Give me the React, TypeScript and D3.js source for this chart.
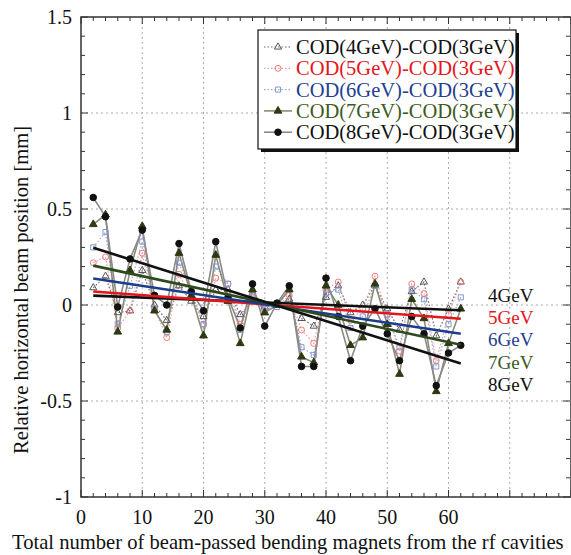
import React from 'react';
import * as d3 from 'd3';

const positions = [2, 4, 6, 8, 10, 12, 14, 16, 18, 20, 22, 24, 26, 28, 30, 32, 34, 36, 38, 40, 42, 44, 46, 48, 50, 52, 54, 56, 58, 60, 62];

const cod4 = [0.09, 0.15, -0.04, -0.03, 0.18, 0.0, -0.08, 0.10, 0.02, -0.06, 0.08, 0.08, -0.05, 0.02, -0.01, 0.0, 0.03, -0.07, -0.11, 0.04, 0.10, -0.04, 0.0, 0.10, -0.02, -0.13, 0.07, 0.12, -0.16, -0.02, 0.12];
const cod5 = [0.22, 0.25, -0.12, -0.03, 0.27, -0.02, -0.17, 0.16, 0.04, -0.10, 0.14, 0.11, -0.10, 0.04, -0.03, -0.01, 0.05, -0.13, -0.20, 0.08, 0.12, -0.08, -0.02, 0.15, -0.05, -0.24, 0.11, 0.06, -0.29, -0.05, 0.12];
const cod6 = [0.30, 0.38, -0.10, 0.10, 0.33, -0.02, -0.14, 0.22, 0.07, -0.10, 0.20, 0.11, -0.13, 0.06, -0.02, -0.01, 0.08, -0.22, -0.26, 0.06, 0.08, -0.12, -0.06, 0.10, -0.05, -0.22, 0.08, 0.03, -0.32, -0.10, 0.04];
const cod7 = [0.42, 0.47, -0.14, 0.18, 0.41, -0.03, -0.13, 0.27, 0.05, -0.16, 0.26, 0.02, -0.20, 0.08, -0.04, 0.0, 0.08, -0.27, -0.30, 0.10, 0.0, -0.21, -0.17, 0.11, -0.10, -0.36, 0.03, -0.07, -0.45, -0.20, -0.02];
const cod8 = [0.56, 0.46, -0.01, 0.24, 0.39, 0.05, 0.0, 0.32, 0.07, -0.03, 0.33, 0.04, -0.12, 0.11, -0.11, 0.01, 0.10, -0.32, -0.32, 0.14, -0.06, -0.29, -0.11, -0.02, -0.15, -0.29, -0.06, -0.15, -0.42, -0.25, -0.21];

const seriesNames = ['COD(4GeV)-COD(3GeV)', 'COD(5GeV)-COD(3GeV)', 'COD(6GeV)-COD(3GeV)', 'COD(7GeV)-COD(3GeV)', 'COD(8GeV)-COD(3GeV)'];
const energyLabels = ['4GeV', '5GeV', '6GeV', '7GeV', '8GeV'];
const fitX = [2, 62];
const fitStart = [0.049, 0.07, 0.138, 0.205, 0.298];
const fitEnd = [-0.027, -0.072, -0.15, -0.207, -0.305];

const xTicks = [0, 10, 20, 30, 40, 50, 60];
const xGrid = [10, 20, 30, 40, 50, 60, 70];
const yTicks = [-1, -0.5, 0, 0.5, 1, 1.5];
const yGrid = [-0.5, 0, 0.5, 1];

const FONT = '"Liberation Serif", "Times New Roman", serif';

const allSeries = [cod4, cod5, cod6, cod7, cod8];
const lineColors = ['#6a6a6a', '#f29a9a', '#9aaad6', '#8c8c74', '#8a8a8a'];
const lineDash = ['1.5,2', '1.5,2', '1.5,2', null, null];
const markerStroke = ['#555', '#ef7b7b', '#8497cf', '#2c3a12', '#111'];
const markerFill = ['none', 'none', 'none', '#2c3a12', '#111'];
const markerType = [d3.symbolTriangle, d3.symbolCircle, d3.symbolSquare, d3.symbolTriangle, d3.symbolCircle];
const markerSize = [22, 28, 26, 26, 34];
const fitColors = ['#111', '#e3161d', '#1c3c8e', '#2d4a1e', '#111'];
const textColors = ['#111', '#e3161d', '#1f3f8f', '#3c5a22', '#111'];

export default function App() {
  const W = 571, H = 555;
  const left = 81, right = 571, top = 17, bottom = 497;
  const x = d3.scaleLinear().domain([0, 80]).range([left, right]);
  const y = d3.scaleLinear().domain([-1, 1.5]).range([bottom, top]);
  const line = d3.line<number>().x((_, i) => x(positions[i])).y(d => y(d));

  const xMinor = d3.range(0, 81, 2);
  const yMinor = d3.range(-1, 1.501, 0.1);

  return (
    <svg width={W} height={H} style={{ position: 'absolute', left: 0, top: 0, background: '#fff' }} fontFamily={FONT}>
      <rect x={0} y={0} width={W} height={H} fill="#fff" />
      {xGrid.map(v => (
        <line key={'gx' + v} x1={x(v)} x2={x(v)} y1={top} y2={bottom} stroke="#aaa" strokeWidth={1} strokeDasharray="2,3" />
      ))}
      {yGrid.map(v => (
        <line key={'gy' + v} x1={left} x2={right} y1={y(v)} y2={y(v)} stroke="#aaa" strokeWidth={1} strokeDasharray="2,3" />
      ))}
      {xMinor.map(v => {
        const major = v % 10 === 0;
        const l = major ? 7 : 4;
        return (
          <g key={'tx' + v}>
            <line x1={x(v)} x2={x(v)} y1={bottom} y2={bottom - l} stroke="#333" strokeWidth={1} />
            <line x1={x(v)} x2={x(v)} y1={top} y2={top + l} stroke="#333" strokeWidth={1} />
          </g>
        );
      })}
      {yMinor.map((v, i) => {
        const major = i % 5 === 0;
        const l = major ? 7 : 4;
        return (
          <g key={'ty' + i}>
            <line x1={left} x2={left + l} y1={y(v)} y2={y(v)} stroke="#333" strokeWidth={1} />
            <line x1={right - 1} x2={right - 1 - l} y1={y(v)} y2={y(v)} stroke="#333" strokeWidth={1} />
          </g>
        );
      })}
      {allSeries.map((s, k) => (
        <path key={'l' + k} d={line(s) || ''} fill="none" stroke={lineColors[k]} strokeWidth={k >= 3 ? 1.6 : 1.2} strokeDasharray={lineDash[k] || undefined} />
      ))}
      {allSeries.map((s, k) => (
        <g key={'m' + k}>
          {s.map((v, i) => (
            <path key={i} transform={`translate(${x(positions[i])},${y(v)})`} d={d3.symbol(markerType[k], markerSize[k])() || ''} fill={markerFill[k]} stroke={markerStroke[k]} strokeWidth={1} />
          ))}
        </g>
      ))}
      {fitStart.map((v, k) => (
        <line key={'f' + k} x1={x(fitX[0])} x2={x(fitX[1])} y1={y(v)} y2={y(fitEnd[k])} stroke={fitColors[k]} strokeWidth={2.6} />
      ))}
      <rect x={left} y={top} width={right - left} height={bottom - top} fill="none" stroke="#333" strokeWidth={1.5} />
      {yTicks.map(v => (
        <text key={'yl' + v} x={72} y={y(v) + 7} textAnchor="end" fontSize={20} fill="#111">{String(v)}</text>
      ))}
      {xTicks.map(v => (
        <text key={'xl' + v} x={x(v)} y={524} textAnchor="middle" fontSize={20} fill="#111">{String(v)}</text>
      ))}
      <text x={12} y={549} fontSize={20.6} fill="#111">Total number of beam-passed bending magnets from the rf cavities</text>
      <text transform={`translate(28,${290}) rotate(-90)`} textAnchor="middle" fontSize={20.5} fill="#111">Relative horizontal beam position [mm]</text>
      <rect x={261} y={33} width={258} height={119} fill="#111" />
      <rect x={258} y={30} width={258} height={119} fill="#fff" stroke="#111" strokeWidth={1.2} />
      {seriesNames.map((n, k) => {
        const ly = 47 + k * 21.3;
        return (
          <g key={'lg' + k}>
            <line x1={264} x2={292} y1={ly} y2={ly} stroke={lineColors[k]} strokeWidth={k >= 3 ? 1.6 : 1.2} strokeDasharray={lineDash[k] || undefined} />
            <path transform={`translate(278,${ly})`} d={d3.symbol(markerType[k], markerSize[k])() || ''} fill={markerFill[k]} stroke={markerStroke[k]} strokeWidth={1} />
            <text x={296} y={ly + 7} fontSize={20.5} fill={textColors[k]}>{n}</text>
          </g>
        );
      })}
      {energyLabels.map((n, k) => (
        <text key={'el' + k} x={488} y={302 + k * 22.2} fontSize={19} fill={textColors[k]}>{n}</text>
      ))}
    </svg>
  );
}
